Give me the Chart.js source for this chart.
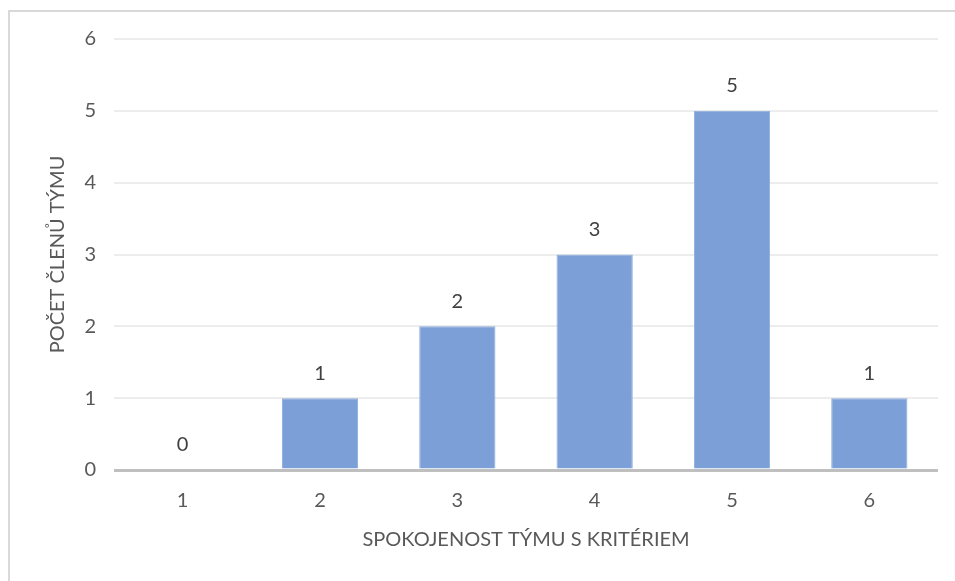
<!DOCTYPE html>
<html>
<head>
<meta charset="utf-8">
<script src="https://cdn.jsdelivr.net/npm/chart.js@4"></script>
<style>
  html, body { margin: 0; padding: 0; background: #fff; overflow: hidden; }
  #frame {
    position: absolute; left: 8px; top: 10px; width: 1000px; height: 1000px;
    border-left: 2px solid #d9d9d9; border-top: 2px solid #d9d9d9;
  }
  #wrap { position: absolute; left: 0; top: 0; width: 955px; height: 581px; }
</style>
</head>
<body>
<div id="frame"></div>
<div id="wrap"><canvas id="chart" width="955" height="581"></canvas></div>
<script>
  // chart data
  const categories = ["1", "2", "3", "4", "5", "6"];
  const memberCounts = [0, 1, 2, 3, 5, 1];
  const yTicks = [0, 1, 2, 3, 4, 5, 6];

  const xTitle = "SPOKOJENOST TÝMU S KRITÉRIEM";
  const yTitle = "POČET ČLENŮ TÝMU";

  const textColor = "#595959";
  const fontFamily = "Lato, 'Open Sans', sans-serif";

  // value labels above bars
  const valueLabels = {
    id: "valueLabels",
    afterDatasetsDraw(chart) {
      const ctx = chart.ctx;
      const meta = chart.getDatasetMeta(0);
      ctx.save();
      ctx.font = "20px " + fontFamily;
      ctx.fillStyle = "#404040";
      ctx.textAlign = "center";
      ctx.textBaseline = "middle";
      meta.data.forEach(function (bar, i) {
        ctx.fillText(String(memberCounts[i]), bar.x, bar.y - 25);
      });
      ctx.restore();
    },
  };

  const ctx = document.getElementById("chart").getContext("2d");
  const myChart = new Chart(ctx, {
    type: "bar",
    data: {
      labels: categories,
      datasets: [
        {
          data: memberCounts,
          backgroundColor: "#7b9fd6",
          borderColor: "#8dacdd",
          borderWidth: 1,
          categoryPercentage: 1,
          barPercentage: 0.555,
        },
      ],
    },
    options: {
      responsive: false,
      animation: false,
      layout: { padding: { top: 39, right: 17, left: 0, bottom: 0 } },
      plugins: { legend: { display: false }, tooltip: { enabled: false } },
      scales: {
        x: {
          grid: { display: false, drawTicks: false },
          border: { display: false },
          ticks: {
            color: textColor,
            font: { family: fontFamily, size: 20 },
            padding: 19,
          },
          title: {
            display: true,
            text: xTitle,
            color: textColor,
            font: { family: fontFamily, size: 20 },
            padding: { top: 0, bottom: 29 },
          },
          afterFit: function (scale) {
            scale.height = 111;
          },
        },
        y: {
          min: 0,
          max: 6,
          afterBuildTicks: function (scale) {
            scale.ticks = yTicks.map(function (v) {
              return { value: v };
            });
          },
          grid: {
            drawTicks: false,
            color: function (c) {
              return c.tick && c.tick.value === 0 ? "#bfbfbf" : "#ededed";
            },
            lineWidth: function (c) {
              return c.tick && c.tick.value === 0 ? 3 : 2;
            },
          },
          border: { display: false },
          ticks: {
            color: textColor,
            font: { family: fontFamily, size: 20 },
            padding: 18,
          },
          title: {
            display: true,
            text: yTitle,
            color: textColor,
            font: { family: fontFamily, size: 20 },
            padding: { top: 46, bottom: 0 },
          },
          afterFit: function (scale) {
            scale.width = 114;
          },
        },
      },
    },
    plugins: [valueLabels],
  });
</script>
</body>
</html>
